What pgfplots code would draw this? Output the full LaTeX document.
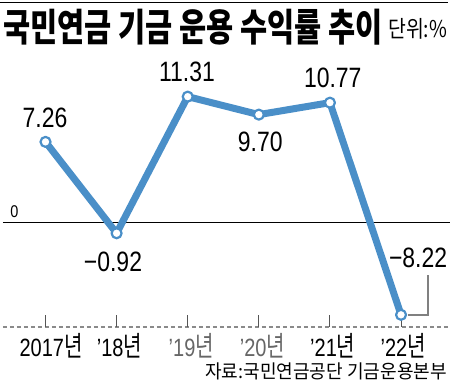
\documentclass[border=0pt]{standalone}
\usepackage{fontspec}
\setmainfont{Liberation Sans}
\newfontfamily\kr{Noto Sans CJK KR}
\usepackage{pgfplots}
\pgfplotsset{compat=1.18}
\definecolor{lineblue}{HTML}{4A8FC8}
\definecolor{tickgray}{HTML}{555555}
\definecolor{dashgray}{HTML}{8A8A8A}
\newcommand{\val}[1]{\fontsize{28bp}{28bp}\selectfont\scalebox{0.82}[1]{#1}}
\newcommand{\nyeon}{{\kr\fontsize{25bp}{25bp}\selectfont\scalebox{1}[1.12]{년}}}
\newcommand{\xl}[1]{\fontsize{25bp}{25bp}\selectfont\scalebox{0.8}[1]{#1\nyeon}}
\begin{document}
\begin{tikzpicture}
\begin{axis}[scale only axis, width=452bp, height=391bp,
  xmin=-0.640, xmax=5.717, ymin=-15.04, ymax=19.96,
  hide axis, clip=false]
% top rule
\draw[black, line width=1.4bp] (axis cs:-0.640,19.74) -- (axis cs:5.661,19.74);
% title
\node[anchor=west, inner sep=0pt] at (axis cs:-0.598,17.50)
  {\kr\bfseries\fontsize{29.5bp}{29.5bp}\selectfont\scalebox{1}[1.3]{국민연금 기금 운용 수익률 추이}};
\node[anchor=west, inner sep=0pt] at (axis cs:4.817,17.40)
  {\kr\fontsize{22bp}{22bp}\selectfont\scalebox{0.88}[1.05]{단위:\%}};
% zero line
\draw[black, line width=1bp] (axis cs:-0.598,0) -- (axis cs:5.689,0);
\node[inner sep=0pt] at (axis cs:-0.436,1.05) {\fontsize{17bp}{17bp}\selectfont\scalebox{0.85}[1]{0}};
% dashed baseline and ticks
\draw[dashgray, line width=1.2bp, dash pattern=on 4bp off 3bp] (axis cs:-0.598,-9.31) -- (axis cs:5.689,-9.31);
\foreach \i in {0,1,2,3,4,5} {
  \edef\temp{\noexpand\draw[tickgray, line width=1bp] (axis cs:\i,-8.24) -- (axis cs:\i,-9.31);}
  \temp
}
% callout for -8.22
\draw[gray, line width=1.2bp] (axis cs:5.38,-4.66) -- (axis cs:5.38,-8.24) -- (axis cs:5.10,-8.24);
% series
\addplot[color=lineblue, line width=7bp, line join=round, mark=*, mark size=5bp,
  mark options={fill=white, draw=lineblue, line width=2.2bp}]
  coordinates {(0,7.26) (1,-0.92) (2,11.31) (3,9.70) (4,10.77) (5,-8.22)};
% value labels
\node[inner sep=0pt] at (axis cs:-0.007,9.40) {\val{7.26}};
\node[inner sep=0pt] at (axis cs:0.949,-3.49) {\val{−0.92}};
\node[inner sep=0pt] at (axis cs:1.99,13.52) {\val{11.31}};
\node[inner sep=0pt] at (axis cs:3.02,7.25) {\val{9.70}};
\node[inner sep=0pt] at (axis cs:4.04,12.98) {\val{10.77}};
\node[inner sep=0pt] at (axis cs:5.24,-3.13) {\val{−8.22}};
% x labels
\node[inner sep=0pt] at (axis cs:0.077,-11.02) {\xl{2017}};
\node[inner sep=0pt] at (axis cs:1.04,-11.02) {\xl{'18}};
\node[inner sep=0pt, text=black!60] at (axis cs:2.05,-11.02) {\xl{'19}};
\node[inner sep=0pt, text=black!60] at (axis cs:3.05,-11.02) {\xl{'20}};
\node[inner sep=0pt] at (axis cs:4.04,-11.02) {\xl{'21}};
\node[inner sep=0pt] at (axis cs:5.03,-11.02) {\xl{'22}};
% source
\node[anchor=east, inner sep=0pt] at (axis cs:5.647,-13.24)
  {\kr\fontsize{19bp}{19bp}\selectfont\scalebox{0.95}[1]{자료:국민연금공단 기금운용본부}};
\end{axis}
\pgfresetboundingbox
\path (0,0) rectangle (452bp,391bp);
\end{tikzpicture}
\end{document}
